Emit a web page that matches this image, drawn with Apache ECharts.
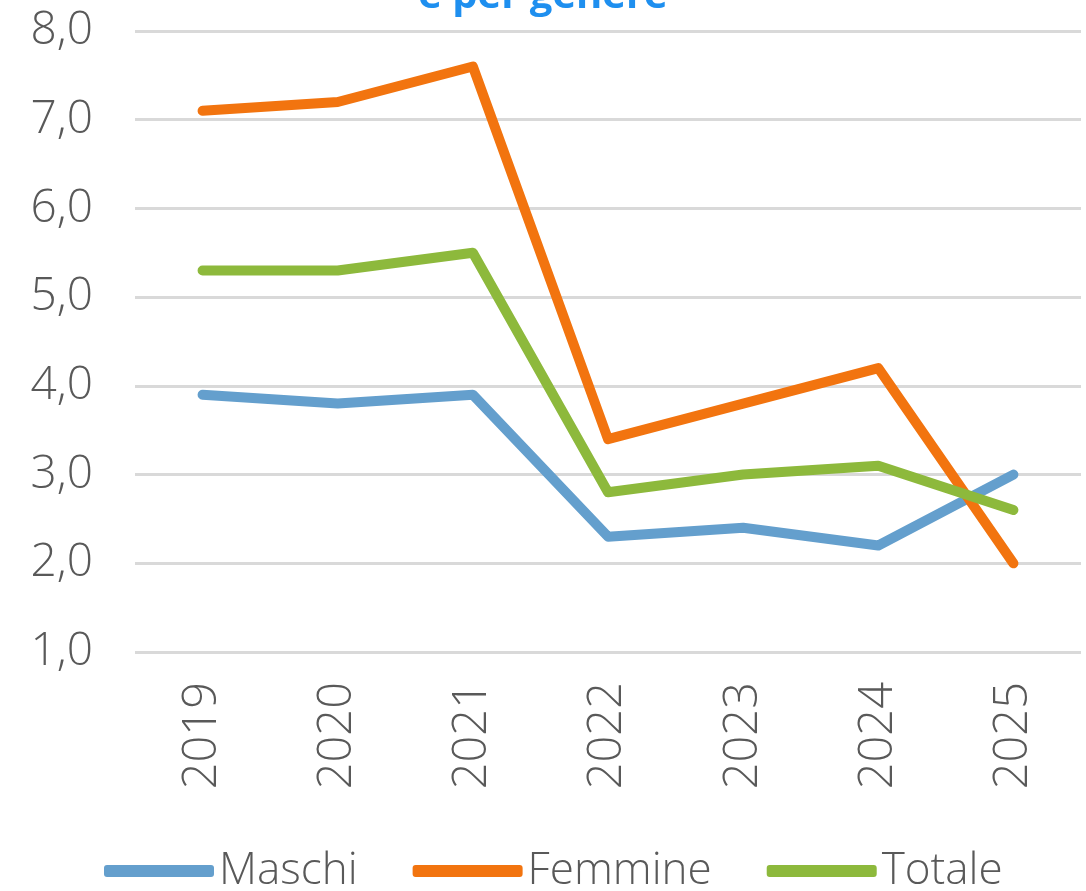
<!DOCTYPE html>
<html>
<head>
<meta charset="utf-8">
<script src="https://cdn.jsdelivr.net/npm/echarts@6/dist/echarts.min.js"></script>
<style>
  html, body { margin: 0; padding: 0; background: #fff; }
  #chart { width: 1086px; height: 891px; }
</style>
</head>
<body>
<div id="chart"></div>
<script>
// anni e valori
var years = ["2019", "2020", "2021", "2022", "2023", "2024", "2025"];
var maschi = [3.9, 3.8, 3.9, 2.3, 2.4, 2.2, 3.0];
var femmine = [7.1, 7.2, 7.6, 3.4, 3.8, 4.2, 2.0];
var totale = [5.3, 5.3, 5.5, 2.8, 3.0, 3.1, 2.6];

var chart = echarts.init(document.getElementById("chart"));

function serie(name, data, color) {
  return {
    name: name,
    type: "line",
    data: data,
    symbol: "none",
    showSymbol: false,
    itemStyle: { color: color },
    lineStyle: { color: color, width: 10, cap: "round", join: "round" }
  };
}

var font = "'Open Sans', sans-serif";
var grigio = "#595959";

var option = {
  animation: false,
  textStyle: { fontFamily: font },
  title: {
    text: "e per genere",
    left: "center",
    top: -28,
    textStyle: { color: "#1E8FEF", fontSize: 40, fontWeight: "bold", fontFamily: font }
  },
  grid: { left: 135, right: 5, top: 31, bottom: 239, containLabel: false },
  legend: {
    bottom: -7,
    left: 99,
    icon: "roundRect",
    itemWidth: 110,
    itemHeight: 12,
    itemGap: 55,
    textStyle: { color: grigio, fontSize: 44, fontWeight: 300, fontFamily: font },
    data: ["Maschi", "Femmine", "Totale"]
  },
  xAxis: {
    type: "category",
    data: years,
    boundaryGap: true,
    axisLine: { show: false },
    axisTick: { show: false },
    axisLabel: { rotate: 90, margin: 30, color: grigio, fontSize: 47, fontWeight: 300 }
  },
  yAxis: {
    type: "value",
    min: 1,
    max: 8,
    interval: 1,
    axisLine: { show: false },
    axisTick: { show: false },
    splitLine: { lineStyle: { color: "#D9D9D9", width: 3 } },
    axisLabel: {
      margin: 42,
      color: grigio,
      fontSize: 46,
      fontWeight: 300,
      formatter: function (v) { return v.toFixed(1).replace(".", ","); }
    }
  },
  series: [
    serie("Maschi", maschi, "#649FCD"),
    serie("Femmine", femmine, "#F2740F"),
    serie("Totale", totale, "#8DB93C")
  ]
};

chart.setOption(option);
</script>
</body>
</html>
